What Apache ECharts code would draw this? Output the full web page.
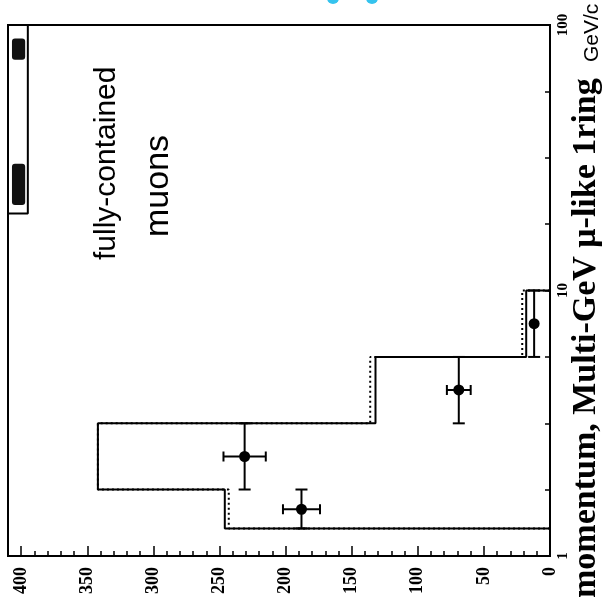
<!DOCTYPE html>
<html>
<head>
<meta charset="utf-8">
<script src="https://cdn.jsdelivr.net/npm/echarts@6/dist/echarts.min.js"></script>
<style>html,body{margin:0;padding:0;background:#fff;}#c{width:606px;height:609px;}</style>
</head>
<body>
<div id="c"></div>
<script>
// ---- data ----
const momentumEdges = [1.27, 1.78, 3.16, 5.62, 10];      // GeV/c, bin edges
const mcSolid = [246, 342, 132, 18];                    // MC expectation (solid)
const mcDotted = [243, 342, 136, 21];                   // MC alt. (dotted)
const dataMomentum = [1.50, 2.37, 4.22, 7.50];          // data point centres
const dataCounts = [188, 231, 69, 12];
const dataErrors = [14, 16, 9, 3.5];
const boxMomentum = [19.5, 100];                        // small box at top-left
const boxCount = [395, 410];
const blobMomentum = [[74, 89], [21, 30]];
const blobCount = [397, 407];
const countTicks = [0, 50, 100, 150, 200, 250, 300, 350, 400];
const momentumTicks = [1, 10, 100];

function histPath(vals) {
  const pts = [[0, momentumEdges[0]]];
  for (let i = 0; i < vals.length; i++) {
    pts.push([vals[i], momentumEdges[i]]);
    pts.push([vals[i], momentumEdges[i + 1]]);
  }
  pts.push([0, momentumEdges[momentumEdges.length - 1]]);
  return pts;
}

const pointData = dataCounts.map((c, i) => [c, dataMomentum[i], dataErrors[i], momentumEdges[i], momentumEdges[i + 1]]);
const blobData = blobMomentum.map(m => [blobCount[0], blobCount[1], m[0], m[1]]);

const chart = echarts.init(document.getElementById('c'));
const serifBold = {fontFamily: 'Liberation Serif', fontWeight: 'bold', color: '#000'};

chart.setOption({
  animation: false,
  backgroundColor: '#fff',
  grid: {left: 8, right: 56, top: 25, bottom: 53, show: true, borderColor: '#000', borderWidth: 2, backgroundColor: 'transparent'},
  xAxis: {
    type: 'value', min: 0, max: 410, interval: 50, inverse: true,
    axisLine: {show: true, lineStyle: {color: '#000', width: 2}},
    axisTick: {show: true, inside: true, length: 10, lineStyle: {color: '#000', width: 1.5}},
    minorTick: {show: true, splitNumber: 5, length: 5, lineStyle: {color: '#000', width: 1.5}},
    splitLine: {show: false},
    axisLabel: Object.assign({rotate: 90, fontSize: 18, margin: 11, showMaxLabel: false,
      formatter: v => countTicks.indexOf(v) >= 0 ? String(v) : ''}, serifBold)
  },
  yAxis: [{
    type: 'log', logBase: 10, min: 1, max: 100, position: 'right',
    axisLine: {show: true, lineStyle: {color: '#000', width: 2}},
    axisTick: {show: true, inside: true, length: 5, lineStyle: {color: '#000', width: 1.5}},
    minorTick: {show: false},
    splitLine: {show: false},
    axisLabel: Object.assign({rotate: 90, fontSize: 15, margin: 6,
      formatter: v => momentumTicks.indexOf(v) >= 0 ? String(v) : ''}, serifBold)
  }, {
    // quarter-decade tick marks (log10 of momentum)
    type: 'value', min: 0, max: 2, interval: 0.25, position: 'right',
    axisLine: {show: false},
    axisTick: {show: true, inside: true, length: 5, lineStyle: {color: '#000', width: 1.5}},
    axisLabel: {show: false},
    splitLine: {show: false}
  }],
  series: [
    {type: 'line', data: histPath(mcDotted), showSymbol: false, z: 2,
     lineStyle: {color: '#000', width: 2, type: [2, 3]}},
    {type: 'line', data: histPath(mcSolid), showSymbol: false, z: 3,
     lineStyle: {color: '#000', width: 2}},
    {type: 'line', data: [[boxCount[1], boxMomentum[0]], [boxCount[0], boxMomentum[0]], [boxCount[0], boxMomentum[1]]],
     showSymbol: false, z: 3, lineStyle: {color: '#000', width: 2}},
    {type: 'custom', z: 4, data: blobData, encode: {x: [0, 1], y: [2, 3]},
     renderItem: function (params, api) {
       const a = api.coord([api.value(0), api.value(2)]);
       const b = api.coord([api.value(1), api.value(3)]);
       return {type: 'rect', shape: {x: Math.min(a[0], b[0]), y: Math.min(a[1], b[1]), width: Math.abs(a[0] - b[0]), height: Math.abs(a[1] - b[1]), r: 3},
               style: {fill: '#111'}};
     }},
    {type: 'custom', z: 5, data: pointData, encode: {x: 0, y: 1},
     renderItem: function (params, api) {
       const cnt = api.value(0), p = api.value(1), e = api.value(2), lo = api.value(3), hi = api.value(4);
       const c = api.coord([cnt, p]);
       const l = api.coord([cnt + e, p]);
       const r = api.coord([cnt - e, p]);
       const t = api.coord([cnt, hi]);
       const b = api.coord([cnt, lo]);
       const ls = {stroke: '#000', lineWidth: 2};
       const cap = 5, capM = 6;
       const kids = [
         {type: 'line', shape: {x1: t[0], y1: t[1], x2: b[0], y2: b[1]}, style: ls},
         {type: 'line', shape: {x1: t[0] - capM, y1: t[1], x2: t[0] + capM, y2: t[1]}, style: ls},
         {type: 'line', shape: {x1: b[0] - capM, y1: b[1], x2: b[0] + capM, y2: b[1]}, style: ls},
         {type: 'circle', shape: {cx: c[0], cy: c[1], r: 5.5}, style: {fill: '#000'}}
       ];
       if (Math.abs(l[0] - r[0]) > 12) {
         kids.push({type: 'line', shape: {x1: l[0], y1: l[1], x2: r[0], y2: r[1]}, style: ls});
         kids.push({type: 'line', shape: {x1: l[0], y1: l[1] - cap, x2: l[0], y2: l[1] + cap}, style: ls});
         kids.push({type: 'line', shape: {x1: r[0], y1: r[1] - cap, x2: r[0], y2: r[1] + cap}, style: ls});
       }
       return {type: 'group', children: kids};
     }}
  ],
  graphic: [
    {type: 'text', x: 603, y: 598, rotation: Math.PI / 2,
     style: {text: 'momentum, Multi-GeV μ-like 1ring', font: 'bold 34px "Liberation Serif"', fill: '#000', textAlign: 'left', textVerticalAlign: 'bottom'}},
    {type: 'text', x: 603, y: 62, rotation: Math.PI / 2,
     style: {text: 'GeV/c', font: '21px "Liberation Sans"', fill: '#000', textAlign: 'left', textVerticalAlign: 'bottom'}},
    {type: 'text', x: 107, y: 260, rotation: Math.PI / 2,
     style: {text: 'fully-contained', font: '30px "Liberation Sans"', fill: '#000', textAlign: 'left', textVerticalAlign: 'middle'}},
    {type: 'text', x: 159, y: 237, rotation: Math.PI / 2,
     style: {text: 'muons', font: '34px "Liberation Sans"', fill: '#000', textAlign: 'left', textVerticalAlign: 'middle'}},
    {type: 'circle', shape: {cx: 333, cy: -2, r: 6}, style: {fill: '#35c3ee'}},
    {type: 'circle', shape: {cx: 372, cy: -2, r: 6}, style: {fill: '#35c3ee'}}
  ]
});
</script>
</body>
</html>
